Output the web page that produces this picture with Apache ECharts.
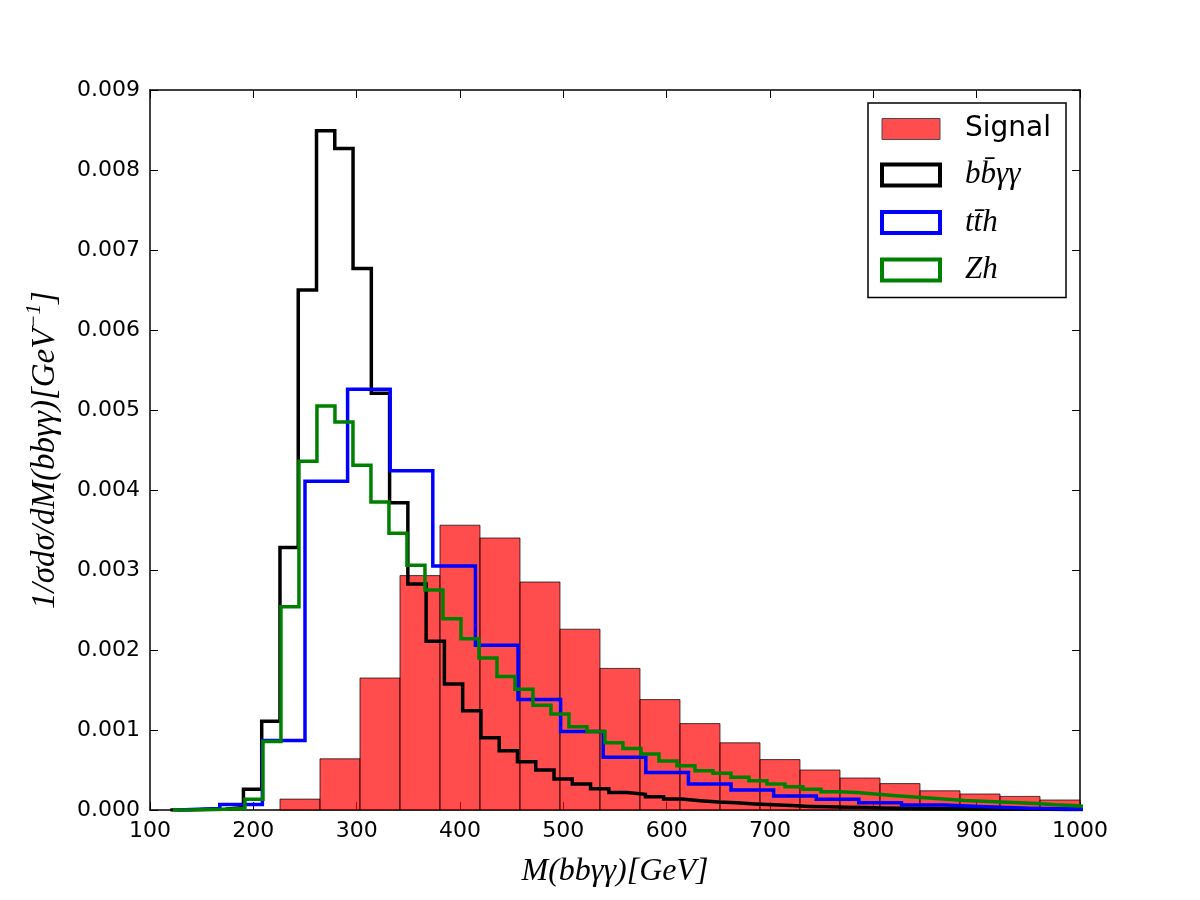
<!DOCTYPE html>
<html>
<head>
<meta charset="utf-8">
<script src="https://cdn.jsdelivr.net/npm/echarts@6/dist/echarts.min.js"></script>
<style>
html, body { margin: 0; padding: 0; background: #fff; }
#chart { width: 1200px; height: 900px; }
</style>
</head>
<body>
<div id="chart"></div>
<script>
// histogram bins: left edge of first bin and bin width (GeV), heights
var signalStart = 225.8, signalWidth = 38.71;
var signalValues = [0.000136, 0.00064, 0.00165, 0.00293, 0.00356, 0.0034, 0.00285, 0.00226, 0.00177, 0.00138,
    0.00108, 0.00084, 0.00063, 0.0005, 0.0004, 0.00033, 0.00024, 0.0002, 0.00017, 0.000125];

var bbaaStart = 119.7, bbaaWidth = 17.68;
var bbaaValues = [0, 0.000005, 0.00001, 0.00003, 0.00026, 0.00111, 0.00328, 0.0065, 0.00849, 0.00827,
    0.00677, 0.00521, 0.00384, 0.002825, 0.00211, 0.001575, 0.00124, 0.000904, 0.00074, 0.000604,
    0.0005, 0.000388, 0.000325, 0.000267, 0.00022, 0.000196, 0.000167, 0.000138, 0.000117, 0.0001,
    0.00009, 0.000075, 0.000065, 0.000055, 0.000045, 0.00004, 0.000033, 0.00003, 0.000026, 0.000022,
    0.00002, 0.000017, 0.000015, 0.000013, 0.000011, 0.00001, 0.000009, 0.000008, 0.000007, 0.000006];

var tthStart = 126.3, tthWidth = 41.23;
var tthValues = [0.00002, 0.00007, 0.00087, 0.00411, 0.00526, 0.00424, 0.00305, 0.00206, 0.00138, 0.00098,
    0.00066, 0.00047, 0.000325, 0.00025, 0.000175, 0.000133, 0.000092, 0.000063, 0.00004, 0.000021,
    0.000012, 0.000008];

var zhStart = 122.2, zhWidth = 17.42;
var zhValues = [0, 0.000005, 0.00001, 0.00002, 0.000134, 0.000855, 0.00254, 0.00436, 0.00505, 0.00485,
    0.00431, 0.00385, 0.00346, 0.00306, 0.00275, 0.00239, 0.00214, 0.0019, 0.00167, 0.00151,
    0.00131, 0.0012, 0.00104, 0.00098, 0.00084, 0.00077, 0.0007, 0.000613, 0.000554, 0.000492,
    0.000458, 0.000408, 0.000367, 0.000325, 0.000292, 0.000258, 0.000229, 0.00022, 0.0002, 0.00018,
    0.000165, 0.00015, 0.000135, 0.00012, 0.00011, 0.0001, 0.00009, 0.00008, 0.000065, 0.000055, 0.00004];

var names = ['Signal', 'bb\u0304\u03b3\u03b3', 'tt\u0304h', 'Zh'];

var mathFont = 'Liberation Serif';
var tickFont = 'DejaVu Sans';

// [left, right, height] for the filled bars
function barData(start, width, values) {
    var out = [];
    values.forEach(function (v, i) {
        out.push([start + width * i, start + width * (i + 1), v]);
    });
    return out;
}

// outline of a step histogram
function stepData(start, width, values) {
    var out = [[start, 0]];
    values.forEach(function (v, i) {
        out.push([start + width * i, v]);
        out.push([start + width * (i + 1), v]);
    });
    out.push([start + width * values.length, 0]);
    return out;
}

var myChart = echarts.init(document.getElementById('chart'));

var frame = { show: true, onZero: false, lineStyle: { color: '#000', width: 1.5 } };
var ticks = { show: true, inside: true, length: 8, lineStyle: { color: '#000', width: 1 } };

function stepSeries(name, color, data, z) {
    return {
        type: 'line',
        name: name,
        data: data,
        showSymbol: false,
        symbol: 'none',
        clip: true,
        z: z,
        lineStyle: { color: color, width: 3.5, join: 'miter' },
        itemStyle: { color: color }
    };
}

var mathLegend = { fontFamily: mathFont, fontStyle: 'italic', fontSize: 31, lineHeight: 28 };

var option = {
    animation: false,
    backgroundColor: '#fff',
    grid: { left: 150, right: 120, top: 90, bottom: 90, containLabel: false },
    legend: {
        orient: 'vertical',
        left: 868,
        top: 103,
        padding: [12, 15, 12, 12],
        itemWidth: 58,
        itemHeight: 21,
        itemGap: 16.5,
        backgroundColor: '#fff',
        borderColor: '#000',
        borderWidth: 1.5,
        borderRadius: 0,
        textStyle: { color: '#000', fontSize: 28, lineHeight: 28, padding: [0, 0, 0, 20] },
        data: [
            { name: names[0], icon: 'rect', itemStyle: { color: '#ff4d4d', borderColor: '#4d4d4d', borderWidth: 1 },
              textStyle: { fontFamily: tickFont, fontSize: 28, lineHeight: 28 } },
            { name: names[1], icon: 'rect', itemStyle: { color: '#fff', borderColor: '#000', borderWidth: 4 },
              textStyle: mathLegend },
            { name: names[2], icon: 'rect', itemStyle: { color: '#fff', borderColor: '#0000ff', borderWidth: 4 },
              textStyle: mathLegend },
            { name: names[3], icon: 'rect', itemStyle: { color: '#fff', borderColor: '#008000', borderWidth: 4 },
              textStyle: mathLegend }
        ]
    },
    xAxis: [{
        type: 'value', min: 100, max: 1000, interval: 100, position: 'bottom',
        axisLine: frame, axisTick: ticks, splitLine: { show: false },
        axisLabel: {
            color: '#000', fontFamily: tickFont, fontSize: 22, margin: 10,
            formatter: function (v) { return String(v); }
        },
        name: 'M(bb\u03b3\u03b3)[GeV]',
        nameLocation: 'middle',
        nameGap: 46,
        nameTextStyle: { color: '#000', fontFamily: mathFont, fontStyle: 'italic', fontSize: 32 }
    }, {
        type: 'value', min: 100, max: 1000, interval: 100, position: 'top',
        axisLine: frame, axisTick: ticks, splitLine: { show: false },
        axisLabel: { show: false }
    }],
    yAxis: [{
        type: 'value', min: 0, max: 0.009, interval: 0.001, position: 'left',
        axisLine: frame, axisTick: ticks, splitLine: { show: false },
        axisLabel: {
            color: '#000', fontFamily: tickFont, fontSize: 22, margin: 10,
            formatter: function (v) { return v.toFixed(3); }
        },
        name: '{a|1/\u03c3d\u03c3/dM(bb\u03b3\u03b3)[GeV}{s|\u22121}{a|]}',
        nameLocation: 'middle',
        nameGap: 88,
        nameTextStyle: {
            color: '#000',
            rich: {
                a: { fontFamily: mathFont, fontStyle: 'italic', fontSize: 33, lineHeight: 38, verticalAlign: 'bottom' },
                s: { fontFamily: mathFont, fontStyle: 'italic', fontSize: 21, lineHeight: 38, verticalAlign: 'top' }
            }
        }
    }, {
        type: 'value', min: 0, max: 0.009, interval: 0.001, position: 'right',
        axisLine: frame, axisTick: ticks, splitLine: { show: false },
        axisLabel: { show: false }
    }],
    series: [
        {
            type: 'custom',
            name: names[0],
            z: 1,
            encode: { x: [0, 1], y: 2 },
            data: barData(signalStart, signalWidth, signalValues),
            itemStyle: { color: '#ff4d4d' },
            renderItem: function (params, api) {
                var p0 = api.coord([api.value(0), api.value(2)]);
                var p1 = api.coord([api.value(1), 0]);
                return {
                    type: 'rect',
                    shape: { x: p0[0], y: p0[1], width: p1[0] - p0[0], height: p1[1] - p0[1] },
                    style: { fill: 'rgba(255,0,0,0.7)', stroke: 'rgba(0,0,0,0.7)', lineWidth: 1 }
                };
            }
        },
        stepSeries(names[1], '#000000', stepData(bbaaStart, bbaaWidth, bbaaValues), 3),
        stepSeries(names[2], '#0000ff', stepData(tthStart, tthWidth, tthValues), 4),
        stepSeries(names[3], '#008000', stepData(zhStart, zhWidth, zhValues), 5)
    ]
};
myChart.setOption(option);
</script>
</body>
</html>
